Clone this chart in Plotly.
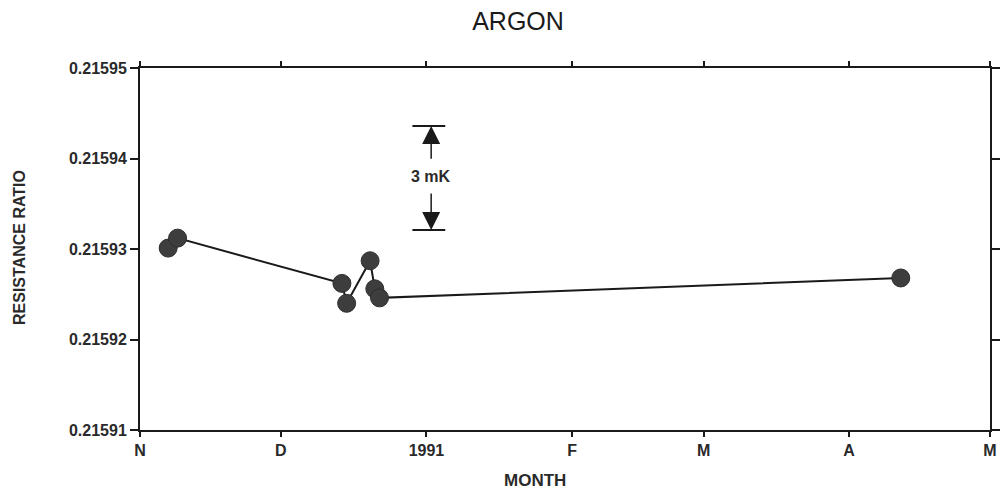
import plotly.graph_objects as go

# ---- data ----
dates = ["1990-11-07", "1990-11-09", "1990-12-14", "1990-12-15",
         "1990-12-20", "1990-12-21", "1990-12-22", "1991-04-12"]
ratio = [0.2159301, 0.2159312, 0.2159262, 0.2159240,
         0.2159287, 0.2159256, 0.2159246, 0.2159268]

tick_dates = ["1990-11-01", "1990-12-01", "1991-01-01", "1991-02-01",
              "1991-03-01", "1991-04-01", "1991-05-01"]
tick_text = ["N", "D", "1991", "F", "M", "A", "M"]
y_ticks = [0.21591, 0.21592, 0.21593, 0.21594, 0.21595]
y_text = ["0.21591", "0.21592", "0.21593", "0.21594", "0.21595"]

# scale bar (3 mK)
bar_x = "1991-01-02"
bar_left, bar_right = "1990-12-29", "1991-01-05"
bar_top, bar_bottom = 0.2159436, 0.2159321
arrow_tail_top, arrow_tail_bottom = 0.2159398, 0.2159363
bar_label_y = 0.2159380
bar_label = "3 mK"

FONT = "Liberation Sans, Arial, sans-serif"
INK = "#1a1a1a"
TXT = "#2a2a2a"

fig = go.Figure()
fig.add_trace(go.Scatter(
    x=dates, y=ratio, mode="lines+markers",
    line=dict(color=INK, width=2),
    marker=dict(size=18, color="#3d3d3d", line=dict(color="#2e2e2e", width=1)),
    showlegend=False,
))

# scale bar horizontal lines
for yv in (bar_top, bar_bottom):
    fig.add_shape(type="line", xref="x", yref="y",
                  x0=bar_left, x1=bar_right, y0=yv, y1=yv,
                  line=dict(color=INK, width=2))

# arrows
fig.add_annotation(x=bar_x, y=bar_top, ax=bar_x, ay=arrow_tail_top,
                   xref="x", yref="y", axref="x", ayref="y",
                   showarrow=True, arrowhead=2, arrowsize=2.4, arrowwidth=1.5,
                   arrowcolor=INK, text="")
fig.add_annotation(x=bar_x, y=bar_bottom, ax=bar_x, ay=arrow_tail_bottom,
                   xref="x", yref="y", axref="x", ayref="y",
                   showarrow=True, arrowhead=2, arrowsize=2.4, arrowwidth=1.5,
                   arrowcolor=INK, text="")
fig.add_annotation(x=bar_x, y=bar_label_y, xref="x", yref="y",
                   text=bar_label, showarrow=False,
                   font=dict(family=FONT, size=16, color=TXT, weight="bold"))

# axis titles
fig.add_annotation(text="MONTH", xref="paper", yref="paper",
                   x=(535 - 140) / 850, y=-(481 - 430) / 362,
                   showarrow=False, yanchor="middle",
                   font=dict(family=FONT, size=17, color=TXT, weight="bold"))
fig.add_annotation(text="RESISTANCE RATIO", xref="paper", yref="paper",
                   x=-(140 - 20) / 850, y=(430 - 248) / 362, textangle=-90,
                   showarrow=False, xanchor="center", yanchor="middle",
                   font=dict(family=FONT, size=16, color=TXT, weight="bold"))

fig.update_layout(
    width=1000, height=492,
    margin=dict(l=140, r=10, t=68, b=62, autoexpand=False),
    paper_bgcolor="white", plot_bgcolor="white",
    title=dict(text="ARGON", xref="container", yref="container",
               x=0.518, y=1 - 21 / 492, xanchor="center", yanchor="middle",
               font=dict(family=FONT, size=25, color=INK)),
    xaxis=dict(type="date", range=["1990-11-01", "1991-05-01"],
               tickvals=tick_dates, ticktext=tick_text, automargin=False,
               showline=True, linecolor=INK, linewidth=2, mirror="ticks",
               ticks="outside", ticklen=5, tickwidth=1.5, tickcolor=INK,
               showgrid=False, zeroline=False,
               tickfont=dict(family=FONT, size=16, color=TXT, weight="bold")),
    yaxis=dict(range=[0.21591, 0.21595], automargin=False,
               tickvals=y_ticks, ticktext=y_text,
               showline=True, linecolor=INK, linewidth=2, mirror="ticks",
               ticks="outside", ticklen=8, tickwidth=1.5, tickcolor=INK,
               showgrid=False, zeroline=False,
               tickfont=dict(family=FONT, size=16, color=TXT, weight="bold")),
)

fig.write_html("out.html", config={"displayModeBar": False},
               post_script="document.body.style.margin='0';"
                           "document.body.style.overflow='hidden';")
